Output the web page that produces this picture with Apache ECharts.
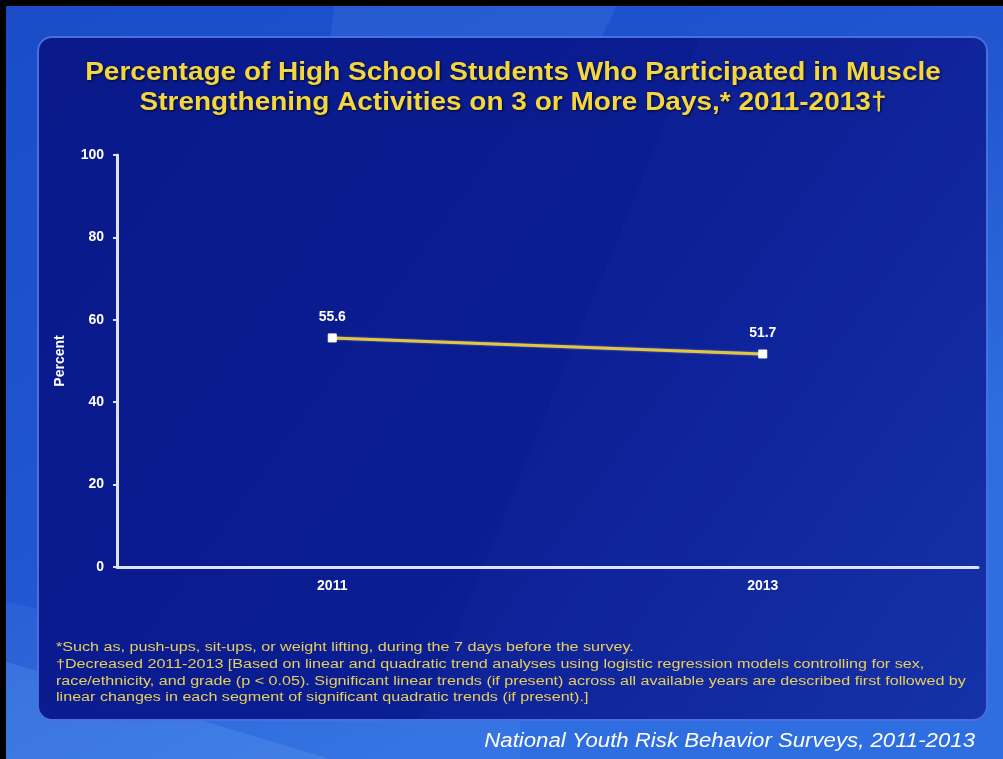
<!DOCTYPE html>
<html>
<head>
<meta charset="utf-8">
<script src="https://cdn.jsdelivr.net/npm/echarts@6/dist/echarts.min.js"></script>
<style>
html,body{margin:0;padding:0;background:#000;}
#chart{width:1003px;height:759px;}
</style>
</head>
<body>
<div id="chart"></div>
<script>
var categories = ['2011', '2013'];
var percentValues = [55.6, 51.7];
var yTicks = [0, 20, 40, 60, 80, 100];
var titleLines = ['Percentage of High School Students Who Participated in Muscle', 'Strengthening Activities on 3 or More Days,* 2011-2013\u2020'];
var footnotes = [
  '*Such as, push-ups, sit-ups, or weight lifting, during the 7 days before the survey.',
  '\u2020Decreased 2011-2013 [Based on linear and quadratic trend analyses using logistic regression models controlling for sex,',
  'race/ethnicity, and grade (p < 0.05). Significant linear trends (if present) across all available years are described first followed by',
  'linear changes in each segment of significant quadratic trends (if present).]'
];
var sourceText = 'National Youth Risk Behavior Surveys, 2011-2013';

var FONT = '"Liberation Sans", Arial, sans-serif';
var chart = echarts.init(document.getElementById('chart'), null, {renderer: 'canvas'});

var footGraphics = footnotes.map(function (t, i) {
  return {
    type: 'text', x: 56, y: 648 + i * 16.6, scaleX: 1.29, z: 5,
    style: {text: t, x: 0, y: 0, fill: '#e6cf5a', font: '12.5px ' + FONT, textVerticalAlign: 'middle', verticalAlign: 'middle'}
  };
});

var titleGraphics = titleLines.map(function (t, i) {
  return {
    type: 'text', x: 513, y: 73 + i * 30, scaleX: 1.12, z: 5,
    style: {text: t, x: 0, y: 0, fill: '#f4d640', font: 'bold 25px ' + FONT,
      textAlign: 'center', align: 'center', textVerticalAlign: 'middle', verticalAlign: 'middle',
      textShadowColor: 'rgba(0,0,0,0.75)', textShadowBlur: 3, textShadowOffsetX: 1, textShadowOffsetY: 1,
      shadowColor: 'rgba(0,0,0,0.75)', shadowBlur: 3, shadowOffsetX: 1, shadowOffsetY: 1}
  };
});

var option = {
  backgroundColor: 'transparent',
  graphic: [
    {type: 'rect', z: -10, shape: {x: 0, y: 0, width: 1003, height: 759},
      style: {fill: new echarts.graphic.LinearGradient(0, 0, 0.4, 1, [
        {offset: 0, color: '#1a4cc8'}, {offset: 0.6, color: '#2056d0'}, {offset: 1, color: '#2f6ee0'}])}},
    {type: 'polygon', z: -9, shape: {points: [[335, 0], [620, 0], [600, 40], [330, 40]]},
      style: {fill: 'rgba(120,170,255,0.12)'}},
    {type: 'polygon', z: -9, shape: {points: [[0, 660], [330, 759], [0, 759]]},
      style: {fill: 'rgba(120,180,255,0.20)'}},
    {type: 'polygon', z: -9, shape: {points: [[0, 600], [520, 720], [520, 759], [0, 759]]},
      style: {fill: 'rgba(120,180,255,0.10)'}},
    {type: 'rect', z: -8, shape: {x: 38, y: 37, width: 949, height: 683, r: 14},
      style: {fill: new echarts.graphic.LinearGradient(0, 0, 1, 1, [
        {offset: 0, color: '#09198a'}, {offset: 0.55, color: '#0a1d92'}, {offset: 1, color: '#1330a6'}]),
        stroke: '#4a6ee0', lineWidth: 2}},
    {type: 'polygon', z: -7, shape: {points: [[700, 38], [986, 38], [986, 719], [420, 719]]},
      style: {fill: 'rgba(60,90,220,0.06)'}},
    {type: 'rect', z: 20, shape: {x: 0, y: 0, width: 1003, height: 6}, style: {fill: '#000'}},
    {type: 'rect', z: 20, shape: {x: 0, y: 0, width: 6, height: 759}, style: {fill: '#000'}},
    {type: 'text', z: 5, x: 975, y: 741, scaleX: 1.11,
      style: {text: sourceText, x: 0, y: 0, fill: '#ffffff', font: 'italic 20px ' + FONT,
        textAlign: 'right', align: 'right', textVerticalAlign: 'middle', verticalAlign: 'middle'}}
  ].concat(titleGraphics, footGraphics),
  grid: {left: 117, right: 25, top: 155, bottom: 192, containLabel: false},
  xAxis: {
    type: 'category', data: categories, boundaryGap: true,
    axisLine: {lineStyle: {color: '#dde2f6', width: 3}},
    axisTick: {show: false},
    axisLabel: {color: '#ffffff', fontWeight: 'bold', fontSize: 14, margin: 12, fontFamily: FONT}
  },
  yAxis: {
    type: 'value', min: 0, max: 100, interval: 20,
    name: 'Percent', nameLocation: 'middle', nameRotate: 90, nameGap: 50,
    nameTextStyle: {color: '#ffffff', fontWeight: 'bold', fontSize: 14, fontFamily: FONT},
    axisLine: {show: true, lineStyle: {color: '#dde2f6', width: 3}},
    axisTick: {show: true, length: 4, lineStyle: {color: '#dde2f6', width: 2}},
    splitLine: {show: false},
    axisLabel: {color: '#ffffff', fontWeight: 'bold', fontSize: 14, margin: 13, fontFamily: FONT,
      formatter: function (v) { return yTicks.indexOf(v) >= 0 ? String(v) : ''; }}
  },
  series: [{
    type: 'line', data: percentValues,
    symbol: 'rect', symbolSize: 8,
    itemStyle: {color: '#ffffff', borderColor: '#ffffff'},
    lineStyle: {color: '#e2c640', width: 3, shadowColor: 'rgba(200,200,200,0.6)', shadowBlur: 2},
    label: {show: true, position: 'top', distance: 9, color: '#ffffff', fontWeight: 'bold', fontSize: 14,
      fontFamily: FONT, formatter: function (p) { return p.value.toFixed(1); }},
    animation: false
  }],
  animation: false
};
chart.setOption(option);
</script>
</body>
</html>
